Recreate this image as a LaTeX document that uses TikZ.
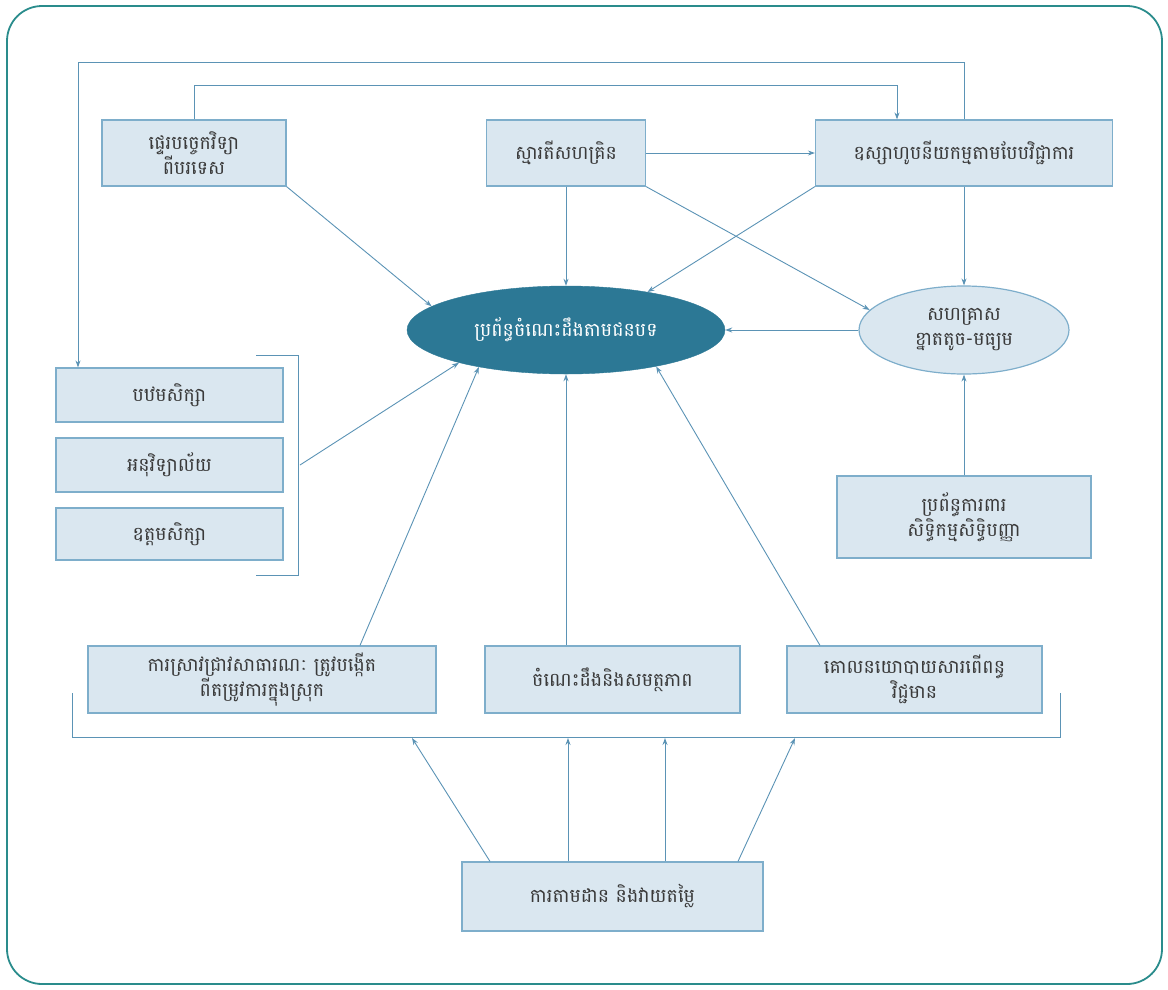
\documentclass[tikz,border=0pt]{standalone}
\usepackage{fontspec}
\newfontfamily\km[Script=Khmer]{Battambang}
\usetikzlibrary{arrows.meta,shapes.geometric}
\definecolor{frame}{HTML}{2A8C8C}
\definecolor{conn}{HTML}{5B93B5}
\definecolor{boxfill}{HTML}{DAE7F0}
\definecolor{boxdraw}{HTML}{7EAECB}
\definecolor{core}{HTML}{2C7895}
\definecolor{txt}{HTML}{3A3A3A}
\begin{document}
\begin{tikzpicture}[x=1pt,y=-1pt,
  bx/.style={draw=boxdraw, fill=boxfill, line width=1.2pt, inner sep=0pt, align=center,
             font=\km\fontsize{19}{25}\selectfont, text=txt},
  arr/.style={draw=conn, line width=0.9pt, -{Stealth[length=7pt,width=5pt]}},
  ln/.style={draw=conn, line width=0.9pt}]
\useasboundingbox (0,0) rectangle (1168,989);
\draw[frame, line width=1.8pt, rounded corners=35pt] (7,6) rectangle (1162,984);

% top row
\node[bx, minimum width=184pt, minimum height=66pt] (b1) at (194,153) {ផ្ទេរបច្ចេកវិទ្យា\\ពីបរទេស};
\node[bx, minimum width=159pt, minimum height=66pt] (b2) at (566,153) {ស្មារតីសហគ្រិន};
\node[bx, minimum width=297pt, minimum height=66pt] (b3) at (964,153) {ឧស្សាហូបនីយកម្មតាមបែបវិជ្ជាការ};

% ellipses
\node[ellipse, fill=core, draw=core, minimum width=318pt, minimum height=88pt, inner sep=0pt,
      font=\km\fontsize{19}{25}\selectfont, text=white] (ce) at (566,330) {ប្រព័ន្ធចំណេះដឹងតាមជនបទ};
\node[ellipse, bx, minimum width=210pt, minimum height=88pt] (re) at (964,330) {សហគ្រាស\\ខ្នាតតូច-មធ្យម};

% left boxes
\node[bx, minimum width=227pt, minimum height=54pt] (l1) at (169.5,395) {បឋមសិក្សា};
\node[bx, minimum width=227pt, minimum height=54pt] (l2) at (169.5,465) {អនុវិទ្យាល័យ};
\node[bx, minimum width=227pt, minimum height=52pt] (l3) at (169.5,534) {ឧត្តមសិក្សា};

% right lower box
\node[bx, minimum width=254pt, minimum height=82pt] (rb) at (964,517) {ប្រព័ន្ធការពារ\\សិទ្ធិកម្មសិទ្ធិបញ្ញា};

% bottom row
\node[bx, minimum width=348pt, minimum height=67pt] (bl) at (262,679.5) {ការស្រាវជ្រាវសាធារណៈ ត្រូវបង្កើត\\ពីតម្រូវការក្នុងស្រុក};
\node[bx, minimum width=255pt, minimum height=67pt] (bm) at (612.5,679.5) {ចំណេះដឹងនិងសមត្ថភាព};
\node[bx, minimum width=255pt, minimum height=67pt] (br) at (914.5,679.5) {គោលនយោបាយសារពើពន្ធ\\វិជ្ជមាន};

\node[bx, minimum width=301pt, minimum height=69pt] (bt) at (612.5,896.5) {ការតាមដាន និងវាយតម្លៃ};

% brackets
\draw[ln] (256,355) -- (298,355) -- (298,575) -- (256,575);
\coordinate (brk) at (300,465);
\draw[ln] (72,693) -- (72,737) -- (1060,737) -- (1060,693);
\coordinate (k1) at (412,738);
\coordinate (k2) at (568,738);
\coordinate (k3) at (665,738);
\coordinate (k4) at (795,738);

% loops
\draw[arr] (b3.north) |- (78,62) -- ([xshift=-91.5]l1.north);
\draw[arr] (b1.north) |- (897,85) -- ([xshift=-67]b3.north);

% top connectors
\draw[arr] (b2.east) -- (b3.west);
\draw[arr] (b1.south east) -- (ce.170);
\draw[arr] (b2.south) -- (ce.north);
\draw[arr] (b3.south west) -- (ce.25);
\draw[arr] (b2.south east) -- (re.168);
\draw[arr] (b3.south) -- (re.north);
\draw[arr] (re.west) -- (ce.east);
\draw[arr] (rb.north) -- (re.south);

% lower connectors
\draw[arr] (brk) -- (ce.197);
\draw[arr] ([xshift=98]bl.north) -- (ce.203);
\draw[arr] ([xshift=-46.5]bm.north) -- (ce.south);
\draw[arr] ([xshift=-94.5]br.north) -- (ce.-22);

% bottom arrows
\draw[arr] ([xshift=-122.5]bt.north) -- (k1);
\draw[arr] ([xshift=-44.5]bt.north) -- (k2);
\draw[arr] ([xshift=52.5]bt.north) -- (k3);
\draw[arr] ([xshift=125.5]bt.north) -- (k4);
\end{tikzpicture}
\end{document}
